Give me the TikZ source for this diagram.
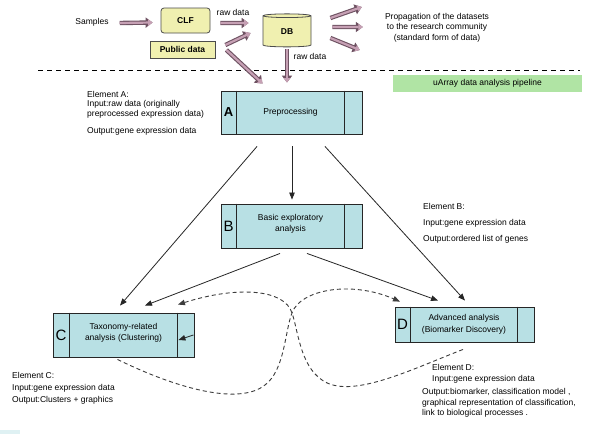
\documentclass[tikz,border=0pt]{standalone}
\usepackage{fontspec}
\setmainfont{Liberation Sans}
\usetikzlibrary{arrows.meta,shapes.geometric,calc}
\definecolor{boxcyan}{RGB}{184,224,228}
\definecolor{pale}{RGB}{240,240,176}
\definecolor{mauvedark}{RGB}{110,82,98}
\definecolor{mauvelight}{RGB}{198,160,180}
\definecolor{pipegreen}{RGB}{176,228,164}
\definecolor{dashgrey}{RGB}{60,60,60}
\begin{document}
\begin{tikzpicture}[x=1pt,y=-1pt,
  every node/.style={font=\fontsize{8.5}{10.5}\selectfont, inner sep=0pt},
  lbl/.style={anchor=west, align=left},
  stagebox/.style={draw=black!85, line width=0.9pt, fill=boxcyan, minimum width=141pt, minimum height=44pt},
  divider/.style={draw=black!85, line width=0.9pt},
  bigletter/.style={font=\fontsize{15}{15}\selectfont},
  fat/.style={preaction={draw=mauvedark, line width=4.4pt, -{Triangle[length=7pt,width=10pt]}},
              draw=mauvelight, line width=2.2pt, -{Triangle[length=4.5pt,width=6.5pt]}},
  thinarrow/.style={draw=black!85, line width=0.8pt, -{Triangle[length=7pt,width=5.5pt]}},
  dcurve/.style={draw=dashgrey, line width=0.9pt, dash pattern=on 4pt off 3pt, -{Triangle[length=7pt,width=5.5pt]}},
  ybox/.style={draw=black!70, line width=0.8pt, fill=pale, font=\fontsize{8.5}{10}\selectfont\bfseries},
]
\fill[white] (0,0) rectangle (595,434);
\useasboundingbox (0,0) rectangle (595,434);

% --- top part ---
\node (Samples) at (92,22) {Samples};
\node[ybox, rounded corners=3pt, minimum width=49pt, minimum height=25pt] (CLF) at (185.5,20.5) {CLF};
\node[ybox, minimum width=65pt, minimum height=17pt] (Public) at (182.5,49.5) {Public data};
\node[cylinder, shape border rotate=90, aspect=0.3, draw=black!70, line width=0.8pt, fill=pale,
      minimum width=48pt, minimum height=33pt, font=\fontsize{8.5}{10}\selectfont\bfseries] (DB) at (287,31.5) {DB};
\node (rawA) at (233,12) {raw data};
\node (rawB) at (310,56) {raw data};
\node[align=center] (Prop) at (437,27.5) {Propagation of the datasets\\to the research community\\(standard form of data)};

\draw[fat] ($(Samples.east)+(11,1)$) -- ($(CLF.west)+(-8,2)$);
\draw[fat] ($(CLF.east)+(10,2.5)$) -- ($(DB.west)+(-14,-8.5)$);
\draw[fat] ($(Public.east)+(10,-4.5)$) -- ($(DB.west)+(-12,1.5)$);
\draw[fat] ($(DB.east)+(19,-13.5)$) -- ($(Prop.west)+(-23,-20.5)$);
\draw[fat] ($(DB.east)+(21,-4.5)$) -- ($(Prop.west)+(-22,-0.5)$);
\draw[fat] ($(DB.east)+(19,6.5)$) -- ($(Prop.west)+(-25,22.5)$);

\draw[black, line width=0.9pt, dash pattern=on 5pt off 4pt] (38,70) -- (580,70);
\node[fill=pipegreen, minimum width=189pt, minimum height=17pt] (Pipe) at (487.5,83.5) {uArray data analysis pipeline};

% --- stage boxes ---
\node[stagebox, minimum height=43pt] (A) at (291.5,112.5) {};
\draw[divider] ($(A.north west)+(16,0)$) -- ($(A.south west)+(16,0)$);
\draw[divider] ($(A.north east)+(-18,0)$) -- ($(A.south east)+(-18,0)$);
\node[font=\fontsize{13}{13}\selectfont\bfseries] (Al) at ($(A.west)+(8,0)$) {A};
\node (At) at ($(A.center)+(-1,0)$) {Preprocessing};

\node[stagebox] (B) at (291.5,226) {};
\draw[divider] ($(B.north west)+(16,0)$) -- ($(B.south west)+(16,0)$);
\draw[divider] ($(B.north east)+(-18,0)$) -- ($(B.south east)+(-18,0)$);
\node[bigletter] (Bl) at ($(B.west)+(8,0)$) {B};
\node[align=center] (Bt) at ($(B.center)+(-1,-2)$) {Basic exploratory\\analysis};

\node[stagebox] (C) at (123.5,335) {};
\draw[divider] ($(C.north west)+(17,0)$) -- ($(C.south west)+(17,0)$);
\draw[divider] ($(C.north east)+(-17,0)$) -- ($(C.south east)+(-17,0)$);
\node[bigletter] (Cl) at ($(C.west)+(8.5,0)$) {C};
\node[align=center] (Ct) at ($(C.center)+(0,-2)$) {Taxonomy-related\\analysis (Clustering)};

\node[stagebox, minimum width=139pt, minimum height=35pt] (D) at (464.5,324.5) {};
\draw[divider] ($(D.north west)+(16,0)$) -- ($(D.south west)+(16,0)$);
\draw[divider] ($(D.north east)+(-17,0)$) -- ($(D.south east)+(-17,0)$);
\node[bigletter] (Dl) at ($(D.west)+(8,0)$) {D};
\node[align=center] (Dt) at ($(D.center)+(-0.5,0)$) {Advanced analysis\\[1pt](Biomarker Discovery)};

% --- element descriptions ---
\node[lbl] (EA1) at (87,94) {Element A:};
\node[lbl] (EA2) at (87,109.5) {Input:raw data (originally\\preprocessed expression data)};
\node[lbl] (EA3) at (87,131) {Output:gene expression data};

\node[lbl] (EB1) at (423,206) {Element B:};
\node[lbl] (EB2) at (423,223) {Input:gene expression data};
\node[lbl] (EB3) at (423,239) {Output:ordered list of genes};

\node[lbl] (EC1) at (12,375) {Element C:};
\node[lbl] (EC2) at (12,388) {Input:gene expression data};
\node[lbl] (EC3) at (12,400) {Output:Clusters + graphics};

\node[lbl] (ED1) at (432,367) {Element D:};
\node[lbl] (ED2) at (432,379) {Input:gene expression data};
\node[lbl] (ED3) at (422,403) {Output:biomarker, classification model ,\\graphical representation of classification,\\link to biological processes .};

% --- flow arrows ---
\draw[fat] ($(Public.east)+(11,0.5)$) -- ($(A.north west)+(42,-7)$);
\draw[fat] ($(DB.south)+(0,2)$) -- ($(A.north)+(-4.5,-8)$);

\draw[thinarrow] ($(A.south)+(-34.5,12)$) -- ($(C.north)+(-3.5,-7)$);
\draw[thinarrow] ($(A.south)+(0.5,12)$) -- ($(B.north)+(0.5,-4)$);
\draw[thinarrow] ($(A.south)+(33.5,12)$) -- ($(D.north)+(0.5,-6)$);
\draw[thinarrow] ($(B.south)+(-11.5,5)$) -- ($(C.north)+(21.5,-7)$);
\draw[thinarrow] ($(B.south)+(15.5,5)$) -- ($(D.north)+(-26.5,-6)$);
\draw[thinarrow] ($(C.east)+(-1,0)$) -- ($(C.east)+(-16,5)$);

\draw[dcurve] ($(D.south)+(-1.5,7)$) .. controls (410,370) and (350,400) .. (322,380)
   .. controls (300,365) and (298,330) .. (292,313)
   .. controls (285,290) and (240,285) .. ($(C.north)+(54.5,-8)$);
\draw[dcurve] ($(C.south)+(-6,2)$) .. controls (180,390) and (240,405) .. (265,385)
   .. controls (285,370) and (285,330) .. (292,313)
   .. controls (300,290) and (350,280) .. ($(D.north)+(-64.5,-5)$);

\fill[boxcyan!45] (0,430) rectangle (20,434);
\end{tikzpicture}
\end{document}
